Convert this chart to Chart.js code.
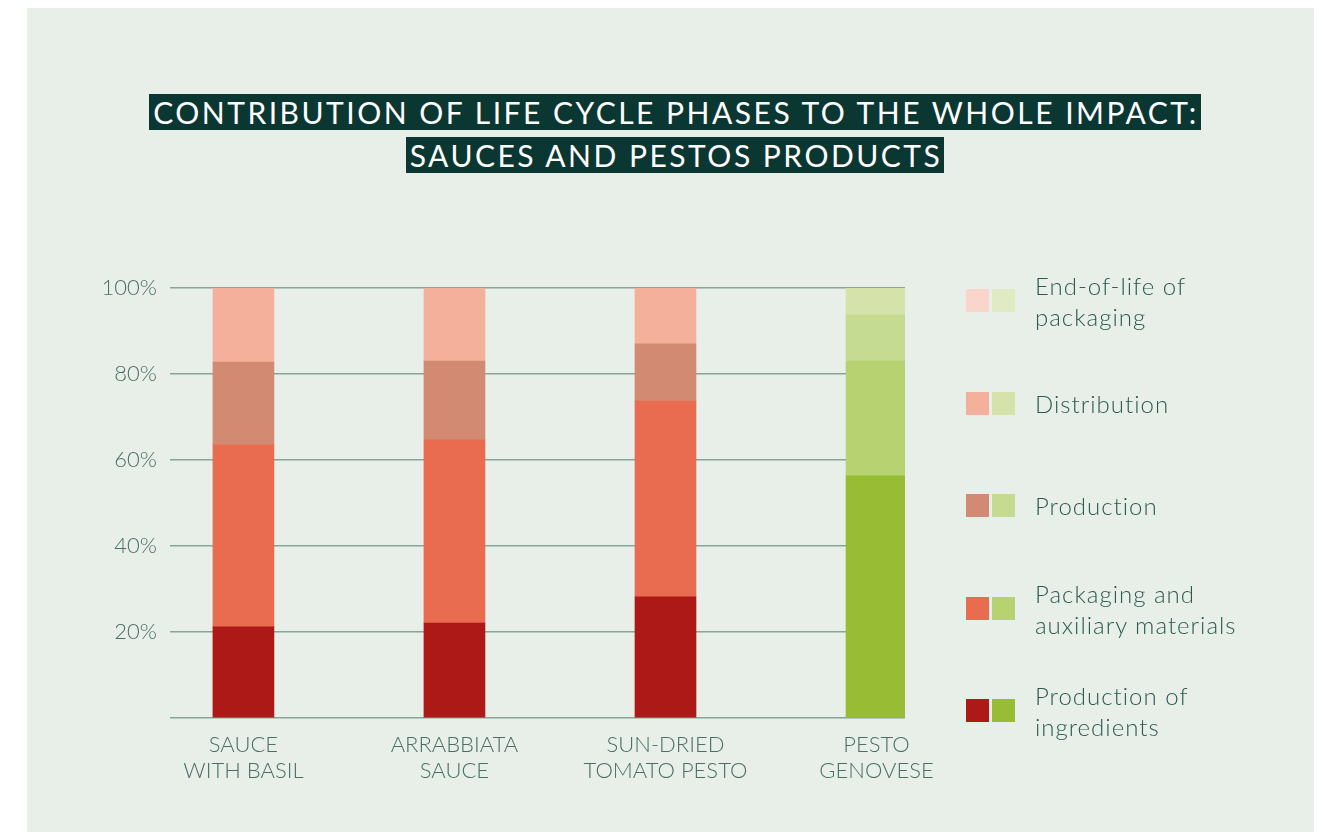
<!DOCTYPE html>
<html>
<head>
<meta charset="utf-8">
<script src="https://cdn.jsdelivr.net/npm/chart.js@4.4.1/dist/chart.umd.min.js"></script>
<style>
  html, body { margin: 0; padding: 0; background: #ffffff; }
  body { width: 1322px; height: 832px; position: relative; overflow: hidden; font-family: Lato, "Open Sans", sans-serif; }
  .panel { position: absolute; left: 27px; top: 8px; width: 1287px; height: 824px; background: #e8efe9; }
  .title { position: absolute; left: 0; width: 1350px; text-align: center; }
  .title span { background: #0b3733; color: #ffffff; font-weight: 400; font-size: 30px; line-height: 35px; padding: 0 2px 0 4px; letter-spacing: 2.5px; }
  .legend { position: absolute; left: 966px; top: 0; }
  .legend .item { position: absolute; left: 0; width: 340px; }
  .legend .sw { position: absolute; width: 23px; height: 23px; }
  .legend .txt { position: absolute; left: 69px; color: #2c5a51; font-size: 24px; font-weight: 300; line-height: 31px; letter-spacing: 1px; white-space: nowrap; }
  #chart { position: absolute; left: 0; top: 0; }
</style>
</head>
<body>
<div class="panel"></div>
<div class="title" style="top:95px"><span>CONTRIBUTION OF LIFE CYCLE PHASES TO THE WHOLE IMPACT:</span></div>
<div class="title" style="top:138px"><span>SAUCES AND PESTOS PRODUCTS</span></div>
<canvas id="chart" width="1322" height="832"></canvas>
<div class="legend" id="legend"></div>

<script>
// products along the x axis
const products = [["SAUCE", "WITH BASIL"], ["ARRABBIATA", "SAUCE"], ["SUN-DRIED", "TOMATO PESTO"], ["PESTO", "GENOVESE"]];

// share of each life cycle phase, in %
const ingredients = [21.2, 22.1, 28.2, 56.3];
const packaging = [42.3, 42.6, 45.5, 26.7];
const production = [19.3, 18.3, 13.3, 10.7];
const distribution = [17.2, 17.0, 13.0, 6.3];
const endOfLife = [0, 0, 0, 0];

const yTicks = [20, 40, 60, 80, 100];

// sauces use the red palette, the pesto genovese the green one
const redColors = ["#ad1917", "#e96c51", "#d38a73", "#f5b09b", "#fad6ca"];
const greenColors = ["#98bc34", "#b7d270", "#c6db92", "#d5e3ab", "#e0eac3"];
const greenBars = [false, false, false, true];

const phases = [
  { label: "Production of ingredients", data: ingredients, lines: ["Production of", "ingredients"] },
  { label: "Packaging and auxiliary materials", data: packaging, lines: ["Packaging and", "auxiliary materials"] },
  { label: "Production", data: production, lines: ["Production"] },
  { label: "Distribution", data: distribution, lines: ["Distribution"] },
  { label: "End-of-life of packaging", data: endOfLife, lines: ["End-of-life of", "packaging"] }
];

const datasets = phases.map(function (p, k) {
  return {
    label: p.label,
    data: p.data.map(function (v, i) { return { x: i, y: v }; }),
    backgroundColor: greenBars.map(function (g) { return g ? greenColors[k] : redColors[k]; }),
    borderWidth: 0,
    barThickness: 61
  };
});

const axisColor = "#4b6f67";

new Chart("chart", {
  type: "bar",
  data: { datasets: datasets },
  options: {
    responsive: false,
    animation: false,
    layout: { padding: { left: 0, right: 417, top: 288, bottom: 0 } },
    plugins: { legend: { display: false }, tooltip: { enabled: false } },
    scales: {
      x: {
        type: "linear",
        stacked: true,
        offset: false,
        min: -0.348,
        max: 3.135,
        grid: { display: false },
        border: { display: false },
        afterBuildTicks: function (scale) {
          scale.ticks = products.map(function (p, i) { return { value: i }; });
        },
        afterFit: function (scale) { scale.height = 114; },
        ticks: {
          autoSkip: false,
          maxRotation: 0,
          padding: 5,
          color: axisColor,
          font: { family: "Lato", size: 22, weight: 300, lineHeight: 1.22 },
          callback: function (value) { return products[value]; }
        }
      },
      y: {
        stacked: true,
        min: 0,
        max: 100,
        grid: { color: "#87a696", lineWidth: 1.5, drawTicks: false },
        border: { display: false },
        afterBuildTicks: function (scale) {
          scale.ticks = [0].concat(yTicks).map(function (v) { return { value: v }; });
        },
        afterFit: function (scale) { scale.width = 170; },
        ticks: {
          padding: 13,
          color: axisColor,
          font: { family: "Lato", size: 22, weight: 300 },
          callback: function (v) { return v === 0 ? "" : v + "%"; }
        }
      }
    }
  }
});

// legend with a red and a green swatch per phase
const legendTops = [289, 392, 494, 597, 699];
const legend = document.getElementById("legend");
phases.slice().reverse().forEach(function (p, j) {
  const k = phases.length - 1 - j;
  const top = legendTops[j];
  const item = document.createElement("div");
  item.className = "item";
  item.style.top = top + "px";
  let html = '<div class="sw" style="left:0;background:' + redColors[k] + '"></div>' +
             '<div class="sw" style="left:26px;background:' + greenColors[k] + '"></div>';
  const textTop = 11.5 - p.lines.length * 31 / 2;
  html += '<div class="txt" style="top:' + textTop + 'px">' + p.lines.join("<br>") + '</div>';
  item.innerHTML = html;
  legend.appendChild(item);
});
</script>
</body>
</html>
